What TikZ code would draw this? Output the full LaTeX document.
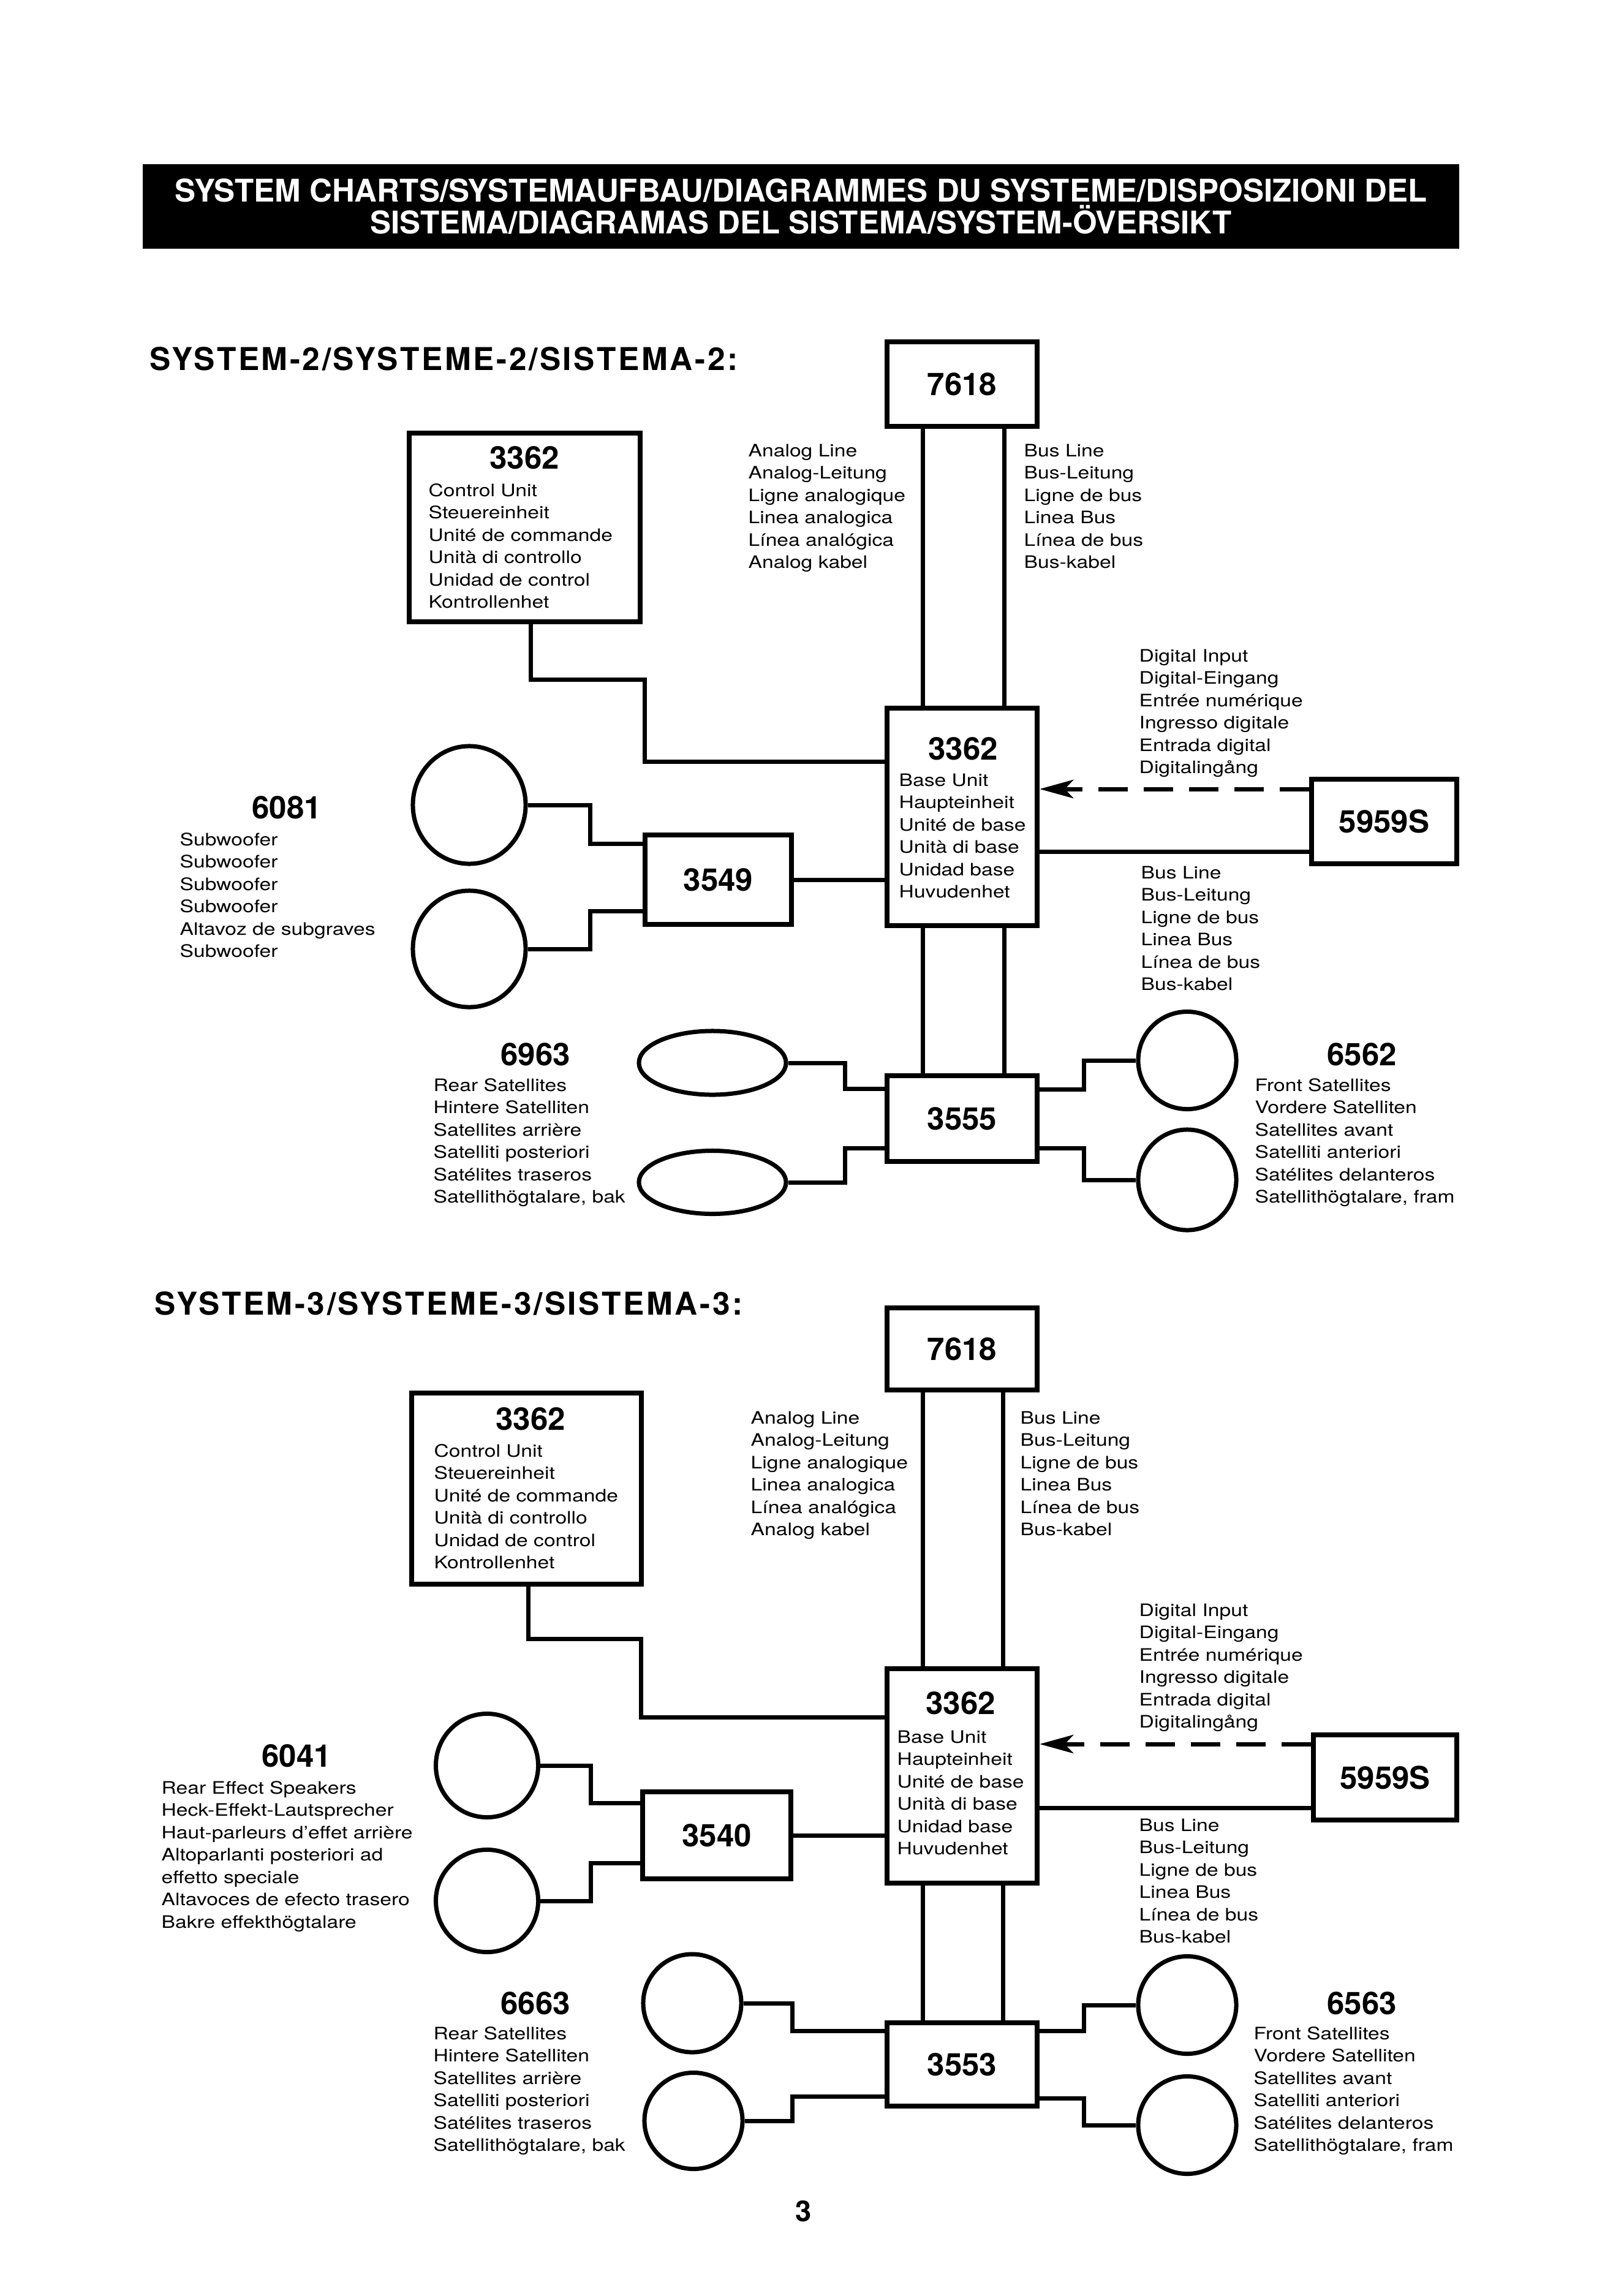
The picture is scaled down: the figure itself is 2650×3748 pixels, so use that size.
\documentclass[tikz,border=0pt]{standalone}
\usepackage{fontspec}
\usepackage{tikz}
\usetikzlibrary{positioning,shapes.geometric,arrows.meta}
\setmainfont{TeX Gyre Heros}
\newfontfamily\lblfont[FakeStretch=1.2]{TeX Gyre Heros}
\newfontfamily\headfont[LetterSpace=7]{TeX Gyre Heros}
\newcommand{\lblstack}[1]{\begin{tabular}[t]{@{}l@{}}#1\end{tabular}}

\begin{document}
\begin{tikzpicture}[
  x=0.01cm, y=-0.01cm,
  box/.style={draw,line width=0.08cm,inner sep=0pt},
  num/.style={font=\fontsize{14.5}{17}\selectfont\bfseries},
  numbox/.style={box,num},
  nnum/.style={num,inner sep=0pt,anchor=base},
  spk/.style={draw,ellipse,line width=0.07cm,inner sep=0pt},
  wire/.style={line width=0.07cm},
  digi/.style={line width=0.07cm,dash pattern=on 0.48cm off 0.26cm,
               -{Stealth[length=0.55cm,width=0.3cm,inset=0.14cm]}},
  lbl/.style={inner sep=0pt,anchor=base west,font=\lblfont\fontsize{7.97}{10.4}\selectfont},
  head/.style={inner sep=0pt,anchor=base west,font=\headfont\fontsize{14.6}{17}\selectfont\bfseries},
  titlebar/.style={fill=black,text=white,inner sep=0pt,minimum width=21.47cm,minimum height=1.38cm,
                   align=center,font=\fontsize{14.5}{14.8}\selectfont\bfseries}
]
  \useasboundingbox (0,0) rectangle (2650,3748);

  \node[titlebar] (title) at (1307.5,337) {SYSTEM CHARTS/SYSTEMAUFBAU/DIAGRAMMES DU SYSTEME/DISPOSIZIONI DEL\\SISTEMA/DIAGRAMAS DEL SISTEMA/SYSTEM-ÖVERSIKT};

  \node[head] (headA) at (244,604) {SYSTEM-2/SYSTEME-2/SISTEMA-2:};

  \node[numbox, minimum width=2.45cm, minimum height=1.38cm] (t7618a) at (1570.5,627) {7618};
  \node[box, minimum width=3.77cm, minimum height=3.07cm] (ctrlA) at (856.5,861) {};
  \node[box, minimum width=2.45cm, minimum height=3.55cm] (baseA) at (1570.5,1333.5) {};
  \node[numbox, minimum width=2.39cm, minimum height=1.46cm] (sub3549) at (1172.5,1436) {3549};
  \node[numbox, minimum width=2.37cm, minimum height=1.38cm] (dig5959A) at (2259.5,1341) {5959S};
  \node[numbox, minimum width=2.45cm, minimum height=1.40cm] (hub3555) at (1570.5,1826) {3555};

  \node[spk, minimum width=1.84cm, minimum height=1.92cm] (subA1) at (766,1314) {};
  \node[spk, minimum width=1.84cm, minimum height=1.90cm] (subA2) at (766,1549) {};
  \node[spk, minimum width=2.40cm, minimum height=1.04cm] (satA1) at (1163,1735) {};
  \node[spk, minimum width=2.40cm, minimum height=1.03cm] (satA2) at (1163,1930) {};
  \node[spk, minimum width=1.60cm, minimum height=1.59cm] (frA1) at (1938,1731) {};
  \node[spk, minimum width=1.60cm, minimum height=1.64cm] (frA2) at (1938,1926) {};

  \node[nnum] (ctrlAnum) at (856,765) {3362};
  \node[lbl] (ctrlAtxt) at (699,810) {\lblstack{Control Unit\\Steuereinheit\\Unité de commande\\Unità di controllo\\Unidad de control\\Kontrollenhet}};
  \node[lbl] (anAtxt) at (1221,745) {\lblstack{Analog Line\\Analog-Leitung\\Ligne analogique\\Linea analogica\\Línea analógica\\Analog kabel}};
  \node[lbl] (bsAtxt) at (1671,745) {\lblstack{Bus Line\\Bus-Leitung\\Ligne de bus\\Linea Bus\\Línea de bus\\Bus-kabel}};
  \node[nnum] (baseAnum) at (1572,1240) {3362};
  \node[lbl] (baseAtxt) at (1467,1283) {\lblstack{Base Unit\\Haupteinheit\\Unité de base\\Unità di base\\Unidad base\\Huvudenhet}};
  \node[lbl] (digAtxt) at (1859,1080) {\lblstack{Digital Input\\Digital-Eingang\\Entrée numérique\\Ingresso digitale\\Entrada digital\\Digitalingång}};
  \node[lbl] (bsAtxt2) at (1862,1434) {\lblstack{Bus Line\\Bus-Leitung\\Ligne de bus\\Linea Bus\\Línea de bus\\Bus-kabel}};
  \node[nnum] (subAnum) at (468,1336) {6081};
  \node[lbl] (subAtxt) at (293,1380) {\lblstack{Subwoofer\\Subwoofer\\Subwoofer\\Subwoofer\\Altavoz de subgraves\\Subwoofer}};
  \node[nnum] (satAnum) at (874,1739) {6963};
  \node[lbl] (satAtxt) at (707,1781) {\lblstack{Rear Satellites\\Hintere Satelliten\\Satellites arrière\\Satelliti posteriori\\Satélites traseros\\Satellithögtalare, bak}};
  \node[nnum] (frAnum) at (2223,1739) {6562};
  \node[lbl] (frAtxt) at (2048,1781) {\lblstack{Front Satellites\\Vordere Satelliten\\Satellites avant\\Satelliti anteriori\\Satélites delanteros\\Satellithögtalare, fram}};

  \coordinate (anA) at (1506,0);
  \coordinate (bsA) at (1639,0);
  \foreach \c in {anA,bsA} {
    \draw[wire] (t7618a.south -| \c) -- (baseA.north -| \c);
    \draw[wire] (baseA.south -| \c) -- (hub3555.north -| \c);
  }
  \draw[wire] (ctrlA.south) ++(10,0) -- ++(0,91) -| (1052,1243) -- (baseA.west |- 0,1243);
  \draw[wire] (sub3549.east) -- (baseA.west |- sub3549.east);
  \draw[digi] (dig5959A.west |- 0,1288) -- (baseA.east |- 0,1288);
  \draw[wire] (dig5959A.west |- 0,1390) -- (baseA.east |- 0,1390);
  \draw[wire] (subA1.east) -| (963,1377) -- (sub3549.west |- 0,1377);
  \draw[wire] (subA2.east) -| (963,1487) -- (sub3549.west |- 0,1487);
  \draw[wire] (satA1.east) -| (1379,1777) -- (hub3555.west |- 0,1777);
  \draw[wire] (satA2.east) -| (1379,1874) -- (hub3555.west |- 0,1874);
  \draw[wire] (hub3555.east |- 0,1778) -| (1769,1731) -- (frA1.west);
  \draw[wire] (hub3555.east |- 0,1874) -| (1769,1926) -- (frA2.west);

  \node[head] (headB) at (252,2146) {SYSTEM-3/SYSTEME-3/SISTEMA-3:};

  \node[numbox, minimum width=2.45cm, minimum height=1.34cm] (t7618b) at (1570.5,2202) {7618};
  \node[box, minimum width=3.75cm, minimum height=3.12cm] (ctrlB) at (859.5,2430) {};
  \node[box, minimum width=2.45cm, minimum height=3.50cm] (baseB) at (1570.5,2899) {};
  \node[numbox, minimum width=2.42cm, minimum height=1.42cm] (sub3540) at (1170,2996) {3540};
  \node[numbox, minimum width=2.34cm, minimum height=1.39cm] (dig5959B) at (2261,2901.5) {5959S};
  \node[numbox, minimum width=2.45cm, minimum height=1.36cm] (hub3553) at (1570.5,3370) {3553};

  \node[spk, minimum width=1.67cm, minimum height=1.69cm] (effB1) at (795,2882) {};
  \node[spk, minimum width=1.67cm, minimum height=1.67cm] (effB2) at (795,3103) {};
  \node[spk, minimum width=1.60cm, minimum height=1.60cm] (reB1) at (1130,3270) {};
  \node[spk, minimum width=1.60cm, minimum height=1.57cm] (reB2) at (1132,3462) {};
  \node[spk, minimum width=1.60cm, minimum height=1.59cm] (frB1) at (1938,3273) {};
  \node[spk, minimum width=1.60cm, minimum height=1.59cm] (frB2) at (1938,3469) {};

  \node[nnum] (ctrlBnum) at (866,2334) {3362};
  \node[lbl] (ctrlBtxt) at (708,2378) {\lblstack{Control Unit\\Steuereinheit\\Unité de commande\\Unità di controllo\\Unidad de control\\Kontrollenhet}};
  \node[lbl] (anBtxt) at (1225,2324) {\lblstack{Analog Line\\Analog-Leitung\\Ligne analogique\\Linea analogica\\Línea analógica\\Analog kabel}};
  \node[lbl] (bsBtxt) at (1665,2324) {\lblstack{Bus Line\\Bus-Leitung\\Ligne de bus\\Linea Bus\\Línea de bus\\Bus-kabel}};
  \node[nnum] (baseBnum) at (1568,2798) {3362};
  \node[lbl] (baseBtxt) at (1464,2845) {\lblstack{Base Unit\\Haupteinheit\\Unité de base\\Unità di base\\Unidad base\\Huvudenhet}};
  \node[lbl] (digBtxt) at (1859,2638) {\lblstack{Digital Input\\Digital-Eingang\\Entrée numérique\\Ingresso digitale\\Entrada digital\\Digitalingång}};
  \node[lbl] (bsBtxt2) at (1859,2989) {\lblstack{Bus Line\\Bus-Leitung\\Ligne de bus\\Linea Bus\\Línea de bus\\Bus-kabel}};
  \node[nnum] (effBnum) at (484,2884) {6041};
  \node[lbl] (effBtxt) at (263,2928) {\lblstack{Rear Effect Speakers\\Heck-Effekt-Lautsprecher\\Haut-parleurs d’effet arrière\\Altoparlanti posteriori ad\\effetto speciale\\Altavoces de efecto trasero\\Bakre effekthögtalare}};
  \node[nnum] (reBnum) at (874,3288) {6663};
  \node[lbl] (reBtxt) at (707,3329) {\lblstack{Rear Satellites\\Hintere Satelliten\\Satellites arrière\\Satelliti posteriori\\Satélites traseros\\Satellithögtalare, bak}};
  \node[nnum] (frBnum) at (2223,3288) {6563};
  \node[lbl] (frBtxt) at (2046,3329) {\lblstack{Front Satellites\\Vordere Satelliten\\Satellites avant\\Satelliti anteriori\\Satélites delanteros\\Satellithögtalare, fram}};

  \coordinate (anB) at (1506,0);
  \coordinate (bsB) at (1637,0);
  \foreach \c in {anB,bsB} {
    \draw[wire] (t7618b.south -| \c) -- (baseB.north -| \c);
    \draw[wire] (baseB.south -| \c) -- (hub3553.north -| \c);
  }
  \draw[wire] (ctrlB.south) ++(3,0) -- ++(0,85) -| (1046,2803) -- (baseB.west |- 0,2803);
  \draw[wire] (sub3540.east) -- (baseB.west |- sub3540.east);
  \draw[digi] (dig5959B.west |- 0,2847) -- (baseB.east |- 0,2847);
  \draw[wire] (dig5959B.west |- 0,2951) -- (baseB.east |- 0,2951);
  \draw[wire] (effB1.east) -| (964,2943) -- (sub3540.west |- 0,2943);
  \draw[wire] (effB2.east) -| (964,3041) -- (sub3540.west |- 0,3041);
  \draw[wire] (reB1.east) -| (1293,3315) -- (hub3553.west |- 0,3315);
  \draw[wire] (reB2.east) -| (1293,3422) -- (hub3553.west |- 0,3422);
  \draw[wire] (hub3553.east |- 0,3315) -| (1769,3273) -- (frB1.west);
  \draw[wire] (hub3553.east |- 0,3425) -| (1769,3469) -- (frB2.west);

  \node[nnum, font=\fontsize{13.4}{16}\selectfont\bfseries] (pagenum) at (1312,3626) {3};
\end{tikzpicture}
\end{document}
